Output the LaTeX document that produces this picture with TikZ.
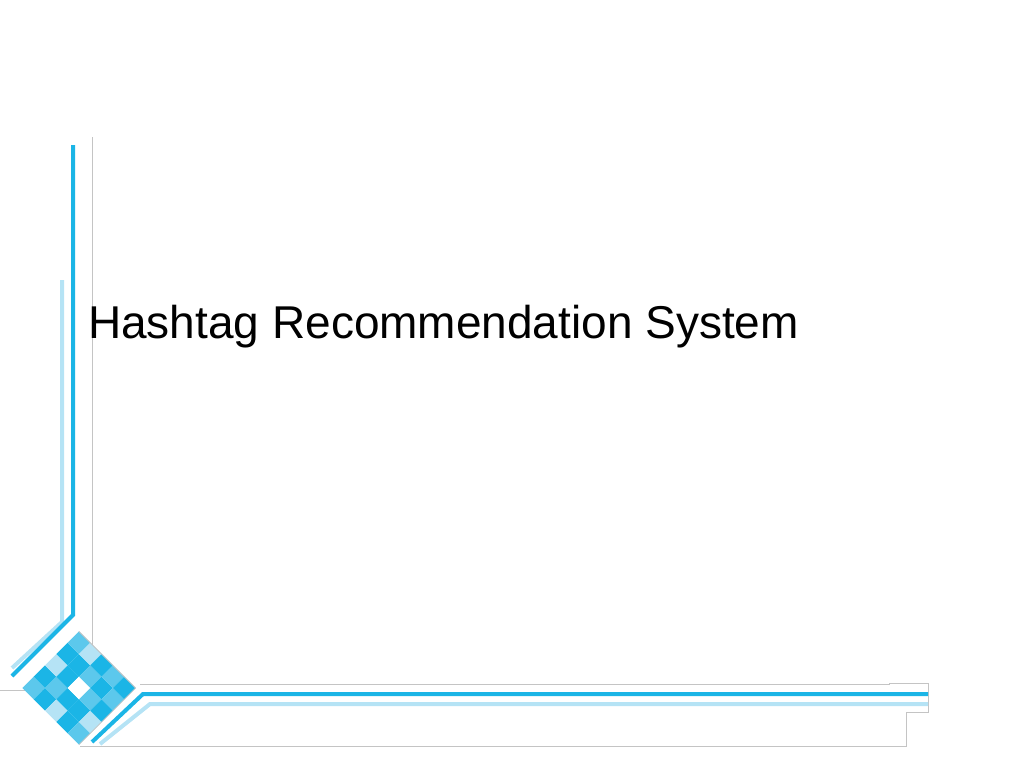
\documentclass[tikz,border=0pt]{standalone}
\usepackage{fontspec}
\setmainfont{Liberation Sans}
\definecolor{cy}{HTML}{1BB5E6}
\definecolor{lcy}{HTML}{B5E3F5}
\definecolor{mcy}{HTML}{5CC8EC}
\definecolor{gr}{HTML}{C4C4C4}
\begin{document}
\begin{tikzpicture}[x=1pt,y=-1pt,
  thick cyan/.style={cy,line width=4pt},
  light cyan/.style={lcy,line width=4pt},
  grey line/.style={gr,line width=1pt}]
\useasboundingbox (0,0) rectangle (1024,768);
% vertical lines
\draw[light cyan] (62,280) -- (62,622) -- (12,668);
\draw[thick cyan] (73,145) -- (73,615) -- (12,676);
\draw[grey line] (92,137) -- (92,648);
\draw[grey line] (0,690) -- (45,690);
% bottom frame
\draw[grey line] (140,684) -- (889,684) -- (889,683) -- (928,683) -- (928,712) -- (906,712) -- (906,746) -- (80,746);
\draw[light cyan] (100,744) -- (150,704) -- (928,704);
\draw[thick cyan] (92,742) -- (143,694) -- (928,694);
% mosaic
\begin{scope}[shift={(79,688)},rotate=45]
\foreach \i/\j/\c in {0/0/mcy,1/0/cy,2/0/lcy,3/0/cy,4/0/mcy,
 0/1/cy,1/1/mcy,2/1/cy,3/1/cy,4/1/lcy,
 0/2/lcy,1/2/cy,2/2/white,3/2/mcy,4/2/cy,
 0/3/cy,1/3/cy,2/3/mcy,3/3/cy,4/3/mcy,
 0/4/mcy,1/4/lcy,2/4/cy,3/4/mcy,4/4/cy}
 \fill[\c] (-40+16*\i,-40+16*\j) rectangle ++(16,16);
\draw[gr,line width=0.8pt] (40,-40) -- (40,40) -- (-40,40);
\end{scope}
\node[anchor=base west,inner sep=0pt,font=\fontsize{46}{50}\selectfont] (title) at (88,338) {Hashtag Recommendation System};
\end{tikzpicture}
\end{document}
